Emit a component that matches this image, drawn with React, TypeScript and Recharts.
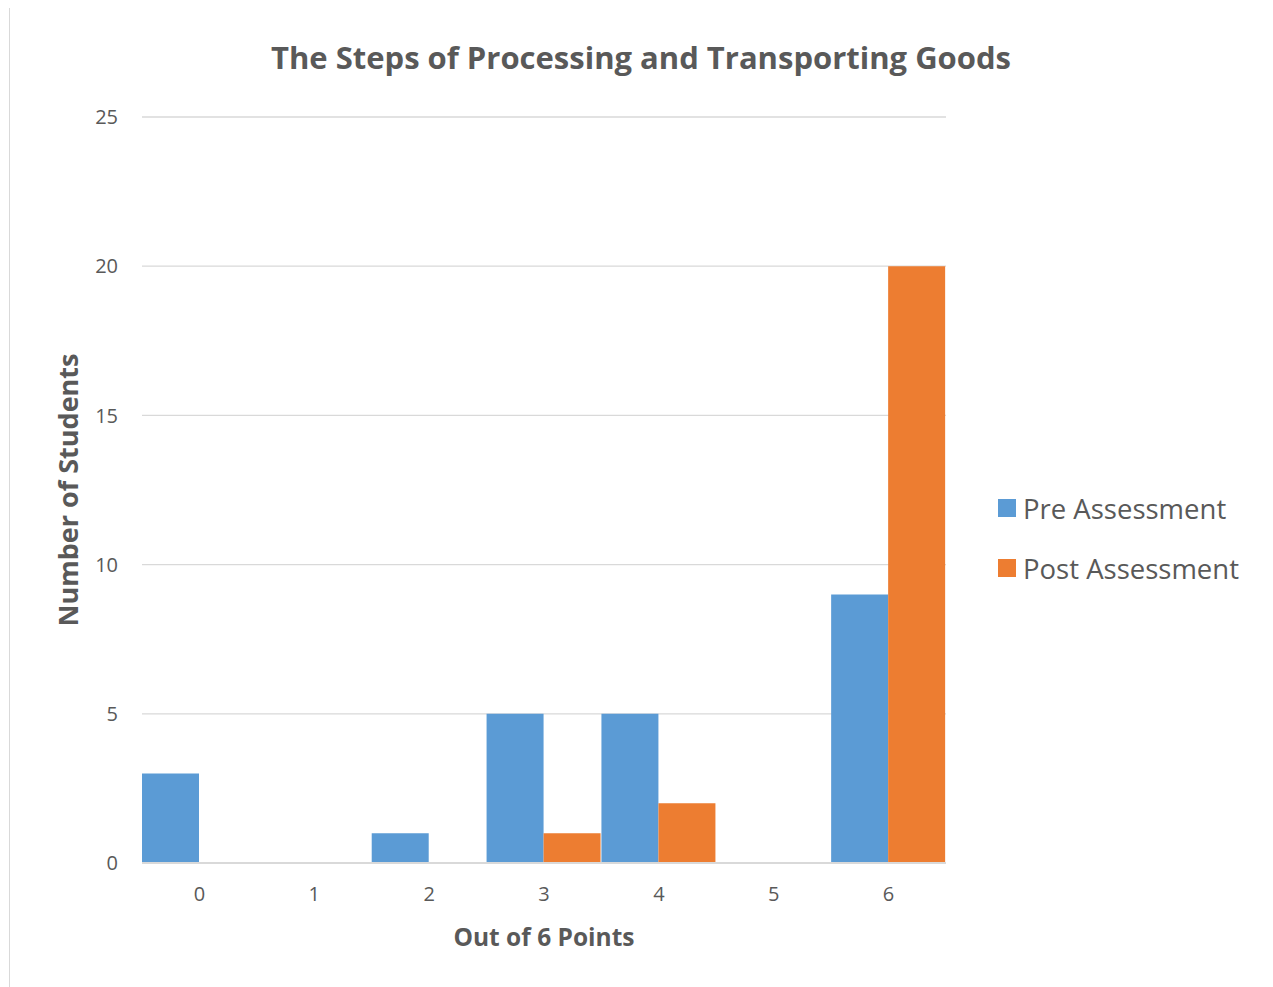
import React from 'react';
import { BarChart, Bar, XAxis, YAxis, CartesianGrid, Legend, Label } from 'recharts';

const points = ['0', '1', '2', '3', '4', '5', '6'];
const preAssessment = [3, 0, 1, 5, 5, 0, 9];
const postAssessment = [0, 0, 0, 1, 2, 0, 20];
const yTicks = [0, 5, 10, 15, 20, 25];
const seriesNames = ['Pre Assessment', 'Post Assessment'];

const PRE = '#5b9bd5';
const POST = '#ed7d31';
const TEXT = '#595959';
const FONT = '"Open Sans", sans-serif';

const data = points.map((p, i) => ({
  points: p,
  pre: preAssessment[i],
  post: postAssessment[i],
}));

// legend drawn as a plain list so the row spacing matches the original
const renderLegend = (props: any) => {
  const items = [...(props.payload || [])].sort(
    (a: any, b: any) => seriesNames.indexOf(a.value) - seriesNames.indexOf(b.value)
  );
  return (
    <div style={{ fontFamily: FONT }}>
      {items.map((entry: any) => (
        <div key={entry.value} style={{ display: 'flex', alignItems: 'center', height: 60 }}>
          <span style={{ width: 18, height: 18, background: entry.color, marginRight: 7, display: 'inline-block' }} />
          <span style={{ fontSize: 27.5, color: TEXT }}>{entry.value}</span>
        </div>
      ))}
    </div>
  );
};

const App: React.FC = () => {
  return (
    <div
      style={{
        position: 'relative',
        marginTop: -1,
        marginLeft: 1,
        width: 1262,
        height: 979,
        borderLeft: '1px solid #d9d9d9',
        borderTop: '1px solid #d9d9d9',
        background: '#fff',
      }}
    >
      <div
        style={{
          position: 'absolute',
          left: 0,
          width: 1262,
          top: 28,
          textAlign: 'center',
          fontFamily: FONT,
          fontWeight: 700,
          fontSize: 31,
          color: TEXT,
        }}
      >
        The Steps of Processing and Transporting Goods
      </div>
      <BarChart
        width={1262}
        height={979}
        data={data}
        margin={{ top: 109, right: 326, left: 52, bottom: 34 }}
        barCategoryGap={0}
        barGap={0}
      >
        <CartesianGrid vertical={false} stroke="#d9d9d9" strokeWidth={1.3} />
        <XAxis
          dataKey="points"
          height={90}
          tickLine={false}
          axisLine={{ stroke: '#d9d9d9', strokeWidth: 2 }}
          tick={{ fontSize: 20, fill: TEXT, fontFamily: FONT }}
          tickMargin={18}
        >
          <Label
            value="Out of 6 Points"
            position="insideBottom"
            offset={7}
            style={{ fontSize: 24.5, fontWeight: 700, fill: TEXT, fontFamily: FONT }}
          />
        </XAxis>
        <YAxis
          width={80}
          domain={[0, 25]}
          ticks={yTicks}
          tickLine={false}
          axisLine={false}
          tick={{ fontSize: 20, fill: TEXT, fontFamily: FONT }}
          tickMargin={18}
        >
          <Label
            value="Number of Students"
            angle={-90}
            position="insideLeft"
            offset={6}
            style={{ fontSize: 27, fontWeight: 700, fill: TEXT, fontFamily: FONT, textAnchor: 'middle' }}
          />
        </YAxis>
        <Legend
          layout="vertical"
          align="center"
          verticalAlign="middle"
          content={renderLegend}
          wrapperStyle={{ left: 988, top: 470, width: 275 }}
        />
        <Bar dataKey="pre" name="Pre Assessment" fill={PRE} isAnimationActive={false} />
        <Bar dataKey="post" name="Post Assessment" fill={POST} isAnimationActive={false} />
      </BarChart>
    </div>
  );
};

export default App;
